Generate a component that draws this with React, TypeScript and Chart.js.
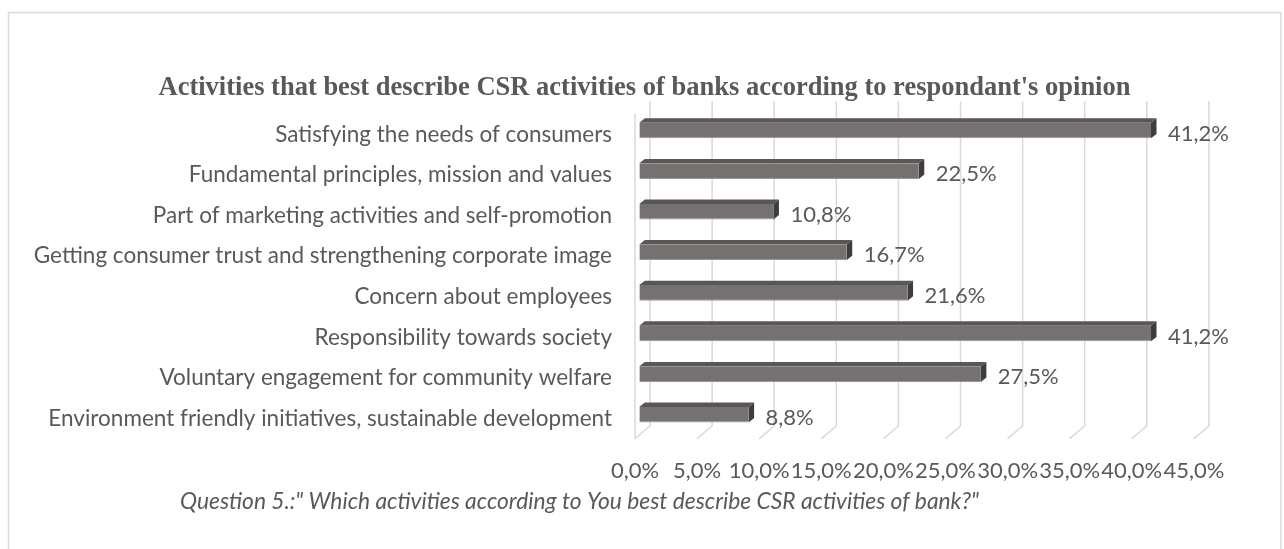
import React, { useEffect, useRef } from "react";
import { Chart, registerables } from "chart.js";

Chart.register(...registerables);

const categories = [
  "Satisfying the needs of consumers",
  "Fundamental principles, mission and values",
  "Part of marketing activities and self-promotion",
  "Getting consumer trust and strengthening corporate image",
  "Concern about employees",
  "Responsibility towards society",
  "Voluntary engagement for community welfare",
  "Environment friendly initiatives, sustainable development",
];
const values = [41.2, 22.5, 10.8, 16.7, 21.6, 41.2, 27.5, 8.8];
const valueLabels = ["41,2%", "22,5%", "10,8%", "16,7%", "21,6%", "41,2%", "27,5%", "8,8%"];
const tickValues = [0, 5, 10, 15, 20, 25, 30, 35, 40, 45];
const tickLabels = ["0,0%", "5,0%", "10,0%", "15,0%", "20,0%", "25,0%", "30,0%", "35,0%", "40,0%", "45,0%"];
const titleText = "Activities that best describe CSR activities of banks according to respondant's opinion";
const footnoteText = "Question 5.:\" Which activities according to You best describe CSR activities of bank?\"";

const W = 1284;
const H = 549;
const TEXT = "#595959";
const GRID = "#d9d9d9";
const FONT = "Lato, 'Open Sans', sans-serif";
// 3D offsets (pixels)
const BACK = { dx: 10.7, dy: -9.05 };
const FRONT = { dx: -4.3, dy: 3.65 };
const BAR_DEPTH = { dx: 5.5, dy: -4.4 };

const decor = {
  id: "decor3d",
  beforeDraw(chart: any) {
    const ctx = chart.ctx;
    ctx.save();
    ctx.fillStyle = "#ffffff";
    ctx.fillRect(0, 0, W, H);
    ctx.strokeStyle = GRID;
    ctx.lineWidth = 1.5;
    ctx.strokeRect(8.5, 12.5, 1272.5, 700);
    ctx.restore();
  },
  beforeDatasetsDraw(chart: any) {
    const ctx = chart.ctx;
    const area = chart.chartArea;
    const xs = chart.scales.x;
    ctx.save();
    ctx.strokeStyle = GRID;
    ctx.lineWidth = 1.5;
    const backTop = area.top + BACK.dy;
    const backBottom = area.bottom + BACK.dy;
    const frontBottom = area.bottom + FRONT.dy;
    tickValues.forEach((v) => {
      const px = xs.getPixelForValue(v);
      ctx.beginPath();
      ctx.moveTo(px + BACK.dx, backTop);
      ctx.lineTo(px + BACK.dx, backBottom);
      ctx.lineTo(px + FRONT.dx, frontBottom);
      ctx.stroke();
    });
    // left side wall front edge
    const x0 = xs.getPixelForValue(0) + FRONT.dx;
    ctx.beginPath();
    ctx.moveTo(x0, area.top + FRONT.dy);
    ctx.lineTo(x0, frontBottom);
    ctx.stroke();
    ctx.restore();
  },
  afterDatasetsDraw(chart: any) {
    const ctx = chart.ctx;
    const xs = chart.scales.x;
    const ys = chart.scales.y;
    const meta = chart.getDatasetMeta(0);
    ctx.save();
    meta.data.forEach((bar: any, i: number) => {
      const p = bar.getProps(["x", "y", "base", "height"], true);
      const top = p.y - p.height / 2;
      const bottom = p.y + p.height / 2;
      const left = Math.min(p.base, p.x);
      const right = Math.max(p.base, p.x);
      // top face
      ctx.fillStyle = "#5a5656";
      ctx.beginPath();
      ctx.moveTo(left, top);
      ctx.lineTo(right, top);
      ctx.lineTo(right + BAR_DEPTH.dx, top + BAR_DEPTH.dy);
      ctx.lineTo(left + BAR_DEPTH.dx, top + BAR_DEPTH.dy);
      ctx.closePath();
      ctx.fill();
      // side face
      ctx.fillStyle = "#3f3c3c";
      ctx.beginPath();
      ctx.moveTo(right, top);
      ctx.lineTo(right + BAR_DEPTH.dx, top + BAR_DEPTH.dy);
      ctx.lineTo(right + BAR_DEPTH.dx, bottom + BAR_DEPTH.dy);
      ctx.lineTo(right, bottom);
      ctx.closePath();
      ctx.fill();
      // value label
      ctx.fillStyle = TEXT;
      ctx.font = `22px ${FONT}`;
      ctx.textAlign = "left";
      ctx.textBaseline = "alphabetic";
      ctx.fillText(valueLabels[i], right + 17, p.y + 10);
    });

    // category labels
    ctx.fillStyle = TEXT;
    ctx.font = `22.5px ${FONT}`;
    ctx.textAlign = "right";
    ctx.textBaseline = "alphabetic";
    categories.forEach((c, i) => {
      const y = ys.getPixelForValue(i);
      ctx.fillText(c, 612, y + 11);
    });

    // tick labels
    ctx.font = `22px ${FONT}`;
    ctx.textAlign = "center";
    tickLabels.forEach((t, i) => {
      const px = xs.getPixelForValue(tickValues[i]) + FRONT.dx;
      ctx.fillText(t, px, 478);
    });

    // title
    ctx.font = `bold 26.5px 'Liberation Serif', 'Times New Roman', serif`;
    ctx.textAlign = "center";
    ctx.fillText(titleText, 644.5, 95);

    // footnote
    ctx.font = `italic 22.8px ${FONT}`;
    ctx.textAlign = "left";
    ctx.fillText(footnoteText, 180, 509);
    ctx.restore();
  },
};

export default function App() {
  const ref = useRef<HTMLCanvasElement | null>(null);
  useEffect(() => {
    let chart: Chart | null = null;
    let cancelled = false;
    const make = () => {
      if (cancelled || !ref.current) return;
      chart = new Chart(ref.current, {
        type: "bar",
        data: {
          labels: categories,
          datasets: [
            {
              data: values,
              backgroundColor: "#767171",
              borderColor: "#9a9595",
              borderWidth: { top: 0, left: 0, right: 0, bottom: 1 },
              borderSkipped: false,
              barPercentage: 0.384,
              categoryPercentage: 1,
            },
          ],
        },
        options: {
          indexAxis: "y",
          responsive: false,
          animation: false,
          events: [],
          layout: {
            padding: { left: 639.3, right: W - 1198.2, top: 110.2, bottom: H - 435 },
          },
          scales: {
            x: { display: false, min: 0, max: 45 },
            y: { display: false },
          },
          plugins: {
            legend: { display: false },
            tooltip: { enabled: false },
            title: { display: false },
          },
        },
        plugins: [decor],
      } as any);
    };
    const fontsAny: any = (document as any).fonts;
    if (fontsAny && fontsAny.load) {
      Promise.all([
        fontsAny.load(`22px Lato`),
        fontsAny.load(`italic 22px Lato`),
        fontsAny.load(`bold 26px 'Liberation Serif'`),
      ])
        .catch(() => null)
        .then(make);
    } else {
      make();
    }
    return () => {
      cancelled = true;
      if (chart) chart.destroy();
    };
  }, []);
  return (
    <div style={{ position: "absolute", left: 0, top: 0, width: W, height: H, overflow: "hidden", background: "#fff" }}>
      <canvas ref={ref} width={W} height={H} style={{ display: "block", width: W, height: H }} />
    </div>
  );
}
